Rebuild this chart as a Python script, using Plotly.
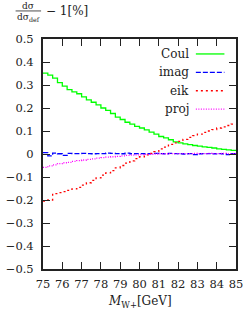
import plotly.graph_objects as go

# bin edges (GeV), 40 bins of 0.25 GeV
bin_edges = [75 + 0.25 * i for i in range(41)]

coul = [0.352, 0.343, 0.330, 0.310, 0.295, 0.280, 0.270, 0.262, 0.248, 0.235,
        0.225, 0.214, 0.200, 0.190, 0.176, 0.160, 0.150, 0.138, 0.130, 0.120,
        0.113, 0.105, 0.095, 0.086, 0.076, 0.070, 0.062, 0.053, 0.048, 0.044,
        0.041, 0.037, 0.034, 0.031, 0.029, 0.026, 0.022, 0.020, 0.018, 0.016]

imag = [0.006, -0.008, 0.004, 0.001, -0.006, 0.003, 0.002, 0.002, 0.003, 0.002,
        0.001, 0.002, 0.002, 0.004, 0.003, 0.002, 0.001, 0.004, 0.001, 0.002,
        0.002, 0.001, 0.002, 0.003, 0.002, 0.001, 0.003, 0.002, 0.001, 0.000,
        0.002, -0.003, 0.001, 0.002, 0.002, 0.001, 0.002, 0.001, -0.003, 0.002]

eik = [-0.205, -0.200, -0.172, -0.168, -0.164, -0.158, -0.152, -0.145, -0.135, -0.125,
       -0.115, -0.104, -0.092, -0.082, -0.072, -0.060, -0.050, -0.040, -0.030, -0.020,
       -0.012, -0.004, 0.003, 0.010, 0.022, 0.030, 0.042, 0.048, 0.055, 0.064,
       0.072, 0.080, 0.086, 0.094, 0.100, 0.106, 0.113, 0.118, 0.124, 0.130]

proj = [-0.058, -0.052, -0.047, -0.042, -0.038, -0.036, -0.032, -0.029, -0.026, -0.023,
        -0.021, -0.018, -0.016, -0.014, -0.012, -0.010, -0.008, -0.006, -0.005, -0.004,
        -0.003, -0.002, -0.001, 0.000, 0.001, 0.001, 0.002, 0.002, 0.002, 0.002,
        0.002, 0.003, 0.002, 0.002, 0.003, 0.002, 0.002, 0.003, 0.002, 0.002]

series_names = ["Coul", "imag", "eik", "proj"]
series_data = [coul, imag, eik, proj]
colors = ["#00ff00", "#0000ff", "#ff0000", "#ff00ff"]
dashes = ["solid", "5px,2px", "2px,3px", "1px,1.5px"]

x_ticks = list(range(75, 86))
y_ticks = [round(-0.5 + 0.1 * i, 1) for i in range(11)]

FONT = "DejaVu Serif"
AX = "#222222"
TXT = "#222222"

fig = go.Figure()
for name, vals, col, dsh in zip(series_names, series_data, colors, dashes):
    fig.add_trace(go.Scatter(
        x=bin_edges, y=vals + [vals[-1]], mode="lines", name=name,
        line=dict(color=col, width=1.3, dash=dsh, shape="hv"),
        showlegend=False, hoverinfo="skip"))

# gnuplot-style legend: label right-aligned, sample line to the right
leg_y = [0.935, 0.855, 0.775, 0.695]
for name, col, dsh, ly in zip(series_names, colors, dashes, leg_y):
    fig.add_annotation(x=0.765, y=ly, xref="paper", yref="paper", text=name,
                       showarrow=False, xanchor="right", yanchor="middle",
                       font=dict(family=FONT, size=12, color=TXT))
    fig.add_shape(type="line", xref="paper", yref="paper",
                  x0=0.792, x1=0.94, y0=ly, y1=ly,
                  line=dict(color=col, width=1.3, dash=dsh))

# y-axis label as a fraction: dσ / dσ_def − 1[%]
fig.add_annotation(x=-0.077, y=1.145, xref="paper", yref="paper", text="dσ",
                   showarrow=False, xanchor="center", yanchor="middle",
                   font=dict(family=FONT, size=9, color=TXT))
fig.add_annotation(x=-0.077, y=1.094, xref="paper", yref="paper",
                   text="dσ<sub>def</sub>",
                   showarrow=False, xanchor="center", yanchor="middle",
                   font=dict(family=FONT, size=9, color=TXT))
fig.add_shape(type="line", xref="paper", yref="paper",
              x0=-0.142, x1=-0.01, y0=1.122, y1=1.122,
              line=dict(color=TXT, width=0.8))
fig.add_annotation(x=0.005, y=1.122, xref="paper", yref="paper",
                   text="− 1[%]", showarrow=False, xanchor="left", yanchor="middle",
                   font=dict(family=FONT, size=12, color=TXT))

# x-axis title
fig.add_annotation(x=0.5, y=-0.143, xref="paper", yref="paper",
                   text="<i>M</i><sub>W+</sub>[GeV]", showarrow=False,
                   xanchor="center", yanchor="middle",
                   font=dict(family=FONT, size=12, color=TXT))

fig.update_layout(
    width=249, height=313,
    margin=dict(l=32, r=6, t=39, b=44),
    paper_bgcolor="white", plot_bgcolor="white",
    font=dict(family=FONT, size=12, color=TXT),
    xaxis=dict(range=[75, 85], tickvals=x_ticks, ticktext=[str(v) for v in x_ticks],
               ticks="inside", ticklen=7, tickwidth=1.2, tickcolor=AX,
               ticklabelstandoff=3, ticklabeloverflow="allow",
               tickfont=dict(family=FONT, size=11.5, color=TXT),
               showline=True, linecolor=AX, linewidth=2, mirror="allticks",
               showgrid=False, zeroline=False),
    yaxis=dict(range=[-0.5, 0.5], tickvals=y_ticks,
               ticks="inside", ticklen=7, tickwidth=1.2, tickcolor=AX,
               ticklabelstandoff=5,
               tickfont=dict(family=FONT, size=11.5, color=TXT),
               showline=True, linecolor=AX, linewidth=2, mirror="allticks",
               showgrid=False, zeroline=False),
)

fig.write_html("out.html", config={"displayModeBar": False},
               post_script="document.body.style.margin='0';document.body.style.overflow='hidden';")
